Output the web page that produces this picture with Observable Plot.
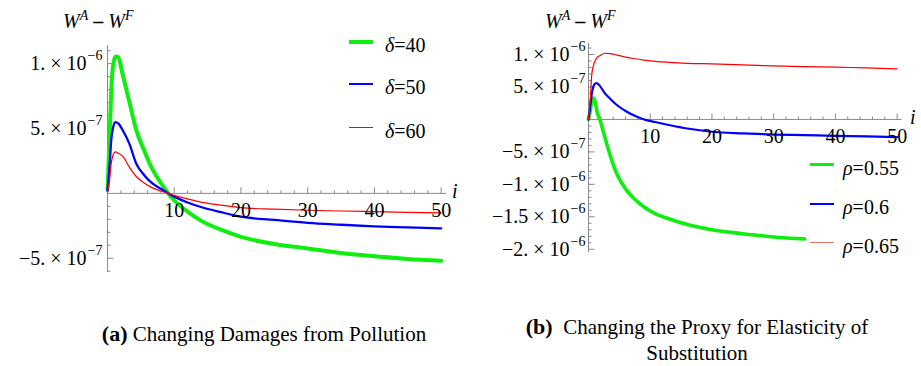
<!DOCTYPE html>
<html><head><meta charset="utf-8">
<script src="https://cdn.jsdelivr.net/npm/d3@7"></script>
<script src="https://cdn.jsdelivr.net/npm/@observablehq/plot@0.6"></script>
<style>
body{margin:0;background:#fff;}
#wrap{position:relative;width:921px;height:366px;font-family:"Liberation Serif","Times New Roman",Times,"DejaVu Serif",serif;color:#000;overflow:hidden;background:#fff}
.abs{position:absolute;white-space:nowrap}
.ttl{font-size:20px;line-height:20px}
.ttl .s{font-size:14px;font-style:italic;position:relative;top:-8px}
.leg{font-size:20px;line-height:20px}
.cap{font-size:21px;line-height:26px;text-align:center}
.cap b{font-size:22px}
</style></head>
<body><div id="wrap"></div>
<script>
// ---------- Data ----------
// Panel (a): Changing Damages from Pollution
const iLeft = [0, 0.3, 0.56, 0.8, 1.2, 1.6, 2.3, 3.3, 4.3, 5.5, 6.5, 8, 9.1, 10, 12, 14, 17, 20, 25, 30, 35, 40, 45, 50];
const delta40 = [0.3e-7, 4.1e-7, 7.9e-7, 9.7e-7, 10.55e-7, 10.5e-7, 9.1e-7, 7.0e-7, 4.9e-7, 3.3e-7, 2.1e-7, 0.8e-7, 0, -0.55e-7, -1.4e-7, -2.1e-7, -2.8e-7, -3.35e-7, -3.9e-7, -4.25e-7, -4.6e-7, -4.85e-7, -5.05e-7, -5.2e-7];
const delta50 = [0.2e-7, 2.0e-7, 4.1e-7, 5.0e-7, 5.5e-7, 5.4e-7, 4.85e-7, 3.8e-7, 2.3e-7, 1.4e-7, 0.87e-7, 0.35e-7, 0, -0.25e-7, -0.7e-7, -1.05e-7, -1.45e-7, -1.8e-7, -2.05e-7, -2.28e-7, -2.42e-7, -2.54e-7, -2.62e-7, -2.7e-7];
const delta60 = [0.1e-7, 1.0e-7, 2.3e-7, 2.9e-7, 3.2e-7, 3.1e-7, 2.85e-7, 2.0e-7, 1.3e-7, 0.8e-7, 0.48e-7, 0.18e-7, 0, -0.15e-7, -0.42e-7, -0.67e-7, -0.9e-7, -1.1e-7, -1.22e-7, -1.3e-7, -1.36e-7, -1.41e-7, -1.46e-7, -1.51e-7];
const leftNames = ["δ=40", "δ=50", "δ=60"];

// Panel (b): Changing the Proxy for Elasticity of Substitution
const iRight = [0, 0.27, 0.54, 0.8, 1.1, 1.35, 1.9, 2.6, 3.5, 4.5, 6, 7.5, 9, 10.8, 13, 16, 20, 25, 30, 35, 40, 45, 50];
const rho055 = [0, 1.3e-7, 2.9e-7, 3.3e-7, 2.6e-7, 1.3e-7, -0.2e-7, -2.6e-7, -5.5e-7, -8.2e-7, -10.7e-7, -12.3e-7, -13.5e-7, -14.5e-7, -15.3e-7, -16.2e-7, -17.0e-7, -17.6e-7, -18.1e-7, -18.4e-7];
const rho060 = [0, 1.9e-7, 4.0e-7, 5.1e-7, 5.55e-7, 5.6e-7, 5.1e-7, 4.1e-7, 3.2e-7, 2.3e-7, 1.3e-7, 0.55e-7, 0, -0.4e-7, -0.85e-7, -1.4e-7, -1.9e-7, -2.15e-7, -2.33e-7, -2.42e-7, -2.52e-7, -2.62e-7, -2.72e-7];
const rho065 = [0, 2.9e-7, 7.0e-7, 8.3e-7, 9.1e-7, 9.5e-7, 9.85e-7, 10.2e-7, 10.15e-7, 9.95e-7, 9.6e-7, 9.35e-7, 9.15e-7, 8.95e-7, 8.8e-7, 8.65e-7, 8.55e-7, 8.4e-7, 8.25e-7, 8.15e-7, 8.05e-7, 7.95e-7, 7.8e-7];
const rightNames = ["ρ=0.55", "ρ=0.6", "ρ=0.65"];

// Tick labels
const xTicks = [10, 20, 30, 40, 50];
const leftYTicks = [1e-6, 5e-7, -5e-7];
const leftYBase = ["1. × 10", "5. × 10", "−5. × 10"];
const leftYExp = ["−6", "−7", "−7"];
const rightYTicks = [1e-6, 5e-7, -5e-7, -1e-6, -1.5e-6, -2e-6];
const rightYBase = ["1. × 10", "5. × 10", "−5. × 10", "−1. × 10", "−1.5 × 10", "−2. × 10"];
const rightYExp = ["−6", "−7", "−7", "−6", "−6", "−6"];

// ---------- Styles ----------
const colors = ["#10ee10", "#0000ff", "#ff0000"];
const widthsL = [4, 2.3, 1.2];
const widthsR = [3.6, 2.2, 1.2];
const axisGray = "#8a8a8a";
const FONT = "'Liberation Serif', 'Times New Roman', Times, 'DejaVu Serif', serif";

const tickSym = (dx, dy) => ({draw(ctx) { ctx.moveTo(0, 0); ctx.lineTo(dx, dy); }});

function toRows(iArr, vals) { return vals.map((v, k) => ({i: iArr[k], v})); }

function panel(o) {
  const [y0, y1] = o.yDomain;
  const yMinor = d3.range(Math.ceil(y0 / 1e-7), Math.floor(y1 / 1e-7) + 1).map(k => k * 1e-7)
    .filter(v => Math.abs(v) > 1e-12 && !o.yTicks.some(t => Math.abs(t - v) < 1e-12));
  const xMinor = d3.range(2, 51, 2).filter(v => v % 10 !== 0);
  const marks = [
    Plot.ruleY([0], {stroke: axisGray, strokeWidth: 1}),
    Plot.ruleX([0], {stroke: axisGray, strokeWidth: 1}),
    Plot.dot(xMinor, {x: d => d, y: () => 0, symbol: tickSym(0, -3), stroke: axisGray, fill: "none", strokeWidth: 1}),
    Plot.dot(xTicks, {x: d => d, y: () => 0, symbol: tickSym(0, -6), stroke: axisGray, fill: "none", strokeWidth: 1}),
    Plot.dot(yMinor, {x: () => 0, y: d => d, symbol: tickSym(3, 0), stroke: axisGray, fill: "none", strokeWidth: 1}),
    Plot.dot(o.yTicks, {x: () => 0, y: d => d, symbol: tickSym(6, 0), stroke: axisGray, fill: "none", strokeWidth: 1})
  ];
  o.series.forEach((s, k) => {
    marks.push(Plot.line(toRows(o.iArr, s), {x: "i", y: "v", stroke: colors[k], strokeWidth: o.widths[k], curve: "monotone-x"}));
  });
  marks.push(
    Plot.text(xTicks, {x: d => d, y: () => 0, text: d => String(d), dy: 17, fontSize: 20, fill: "#000"}),
    Plot.text(o.yTicks, {x: () => 0, y: d => d, text: (d, k) => o.yBase[k], textAnchor: "end", dx: -(o.expGap + 16), fontSize: 20, fill: "#000"}),
    Plot.text(o.yTicks, {x: () => 0, y: d => d, text: (d, k) => o.yExp[k], textAnchor: "end", dx: -o.expGap, dy: -8, fontSize: 14, fill: "#000"})
  );
  return Plot.plot({
    width: o.width, height: o.height,
    marginLeft: o.marginLeft, marginRight: o.marginRight, marginTop: o.marginTop, marginBottom: o.marginBottom,
    x: {domain: [0, 50.8], axis: null},
    y: {domain: o.yDomain, axis: null},
    style: {fontFamily: FONT, fontSize: "20px", background: "transparent", overflow: "visible"},
    marks
  });
}

const wrap = document.getElementById("wrap");

const left = panel({
  width: 460, height: 290, marginLeft: 107, marginRight: 14, marginTop: 45, marginBottom: 18,
  yDomain: [-6.1e-7, 1.14e-6], iArr: iLeft, series: [delta40, delta50, delta60], widths: widthsL,
  yTicks: leftYTicks, yBase: leftYBase, yExp: leftYExp, expGap: 5
});
left.style.position = "absolute"; left.style.left = "0px"; left.style.top = "0px";
wrap.appendChild(left);

const right = panel({
  width: 461, height: 290, marginLeft: 128, marginRight: 19.4, marginTop: 43, marginBottom: 38,
  yDomain: [-2.05e-6, 1.17e-6], iArr: iRight, series: [rho055, rho060, rho065], widths: widthsR,
  yTicks: rightYTicks, yBase: rightYBase, yExp: rightYExp, expGap: 3
});
right.style.position = "absolute"; right.style.left = "460px"; right.style.top = "0px";
wrap.appendChild(right);

function addHTML(html, css, cls) {
  const d = document.createElement("div");
  d.className = "abs " + (cls || "");
  d.innerHTML = html;
  Object.assign(d.style, css);
  wrap.appendChild(d);
  return d;
}

const title = '<i>W</i><span class="s">A</span> <b style="font-weight:bold">–</b> <i>W</i><span class="s">F</span>';
addHTML(title, {left: "63px", top: "11px"}, "ttl");
addHTML(title, {left: "545px", top: "11px"}, "ttl");
addHTML("<i>i</i>", {left: "452px", top: "181px"}, "ttl");
addHTML("<i>i</i>", {left: "910px", top: "107px"}, "ttl");

function legend(names, widths, lineX, textX, ys, lineColors) {
  names.forEach((n, k) => {
    addHTML("", {left: lineX + "px", top: (ys[k] - widths[k] / 2) + "px", borderTop: widths[k] + "px solid " + lineColors[k], width: "24px", height: "0px"});
    const [sym, rest] = n.split("=");
    addHTML("<i>" + sym + "</i>=" + rest, {left: textX + "px", top: (ys[k] - 7) + "px"}, "leg");
  });
}
legend(leftNames, widthsL, 349, 385, [41.7, 84, 127.7], colors);
legend(rightNames, widthsR, 810, 843, [165, 204, 242.7], [colors[0], colors[1], "#f07070"]);

addHTML("<b>(a)</b> Changing Damages from Pollution", {left: "0px", width: "528px", top: "321px"}, "cap");
addHTML("<b>(b)</b>&nbsp; Changing the Proxy for Elasticity of<br>Substitution", {left: "467px", width: "460px", top: "314px"}, "cap");
</script></body></html>
